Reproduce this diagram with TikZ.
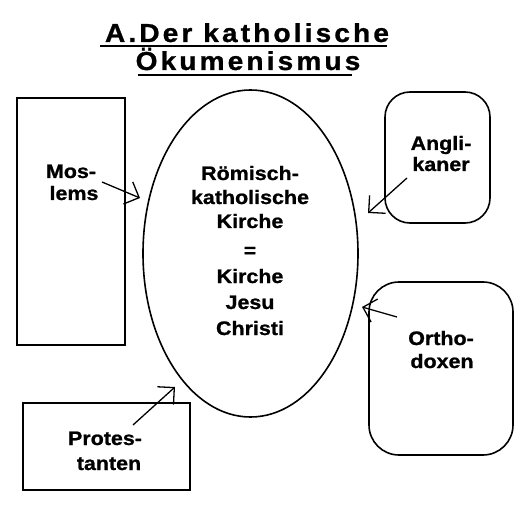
\documentclass[tikz,border=0pt]{standalone}
\usepackage{fontspec}
\usetikzlibrary{shapes.geometric,arrows.meta}
\newfontfamily\lblfont{Liberation Sans}[FakeStretch=1.1,FakeBold=1]
\newfontfamily\ttlfont{Liberation Sans}[FakeStretch=1.08,LetterSpace=12,FakeBold=1]
\begin{document}
\begin{tikzpicture}[x=1pt,y=-1pt,
  shape line/.style={draw=black,line width=1.6pt},
  lbl/.style={inner sep=0pt,anchor=base,font=\lblfont\bfseries\fontsize{19.5}{24}\selectfont},
  ttl/.style={inner sep=0pt,anchor=base,font=\ttlfont\bfseries\fontsize{26}{30}\selectfont},
  conn/.style={line width=1.3pt,-{Straight Barb[length=12pt,width=24pt,line width=1.3pt]}}]
\useasboundingbox (0,0) rectangle (530,505);
% title
\node[ttl] (t1) at (247,42) {A.Der katholische};
\node[ttl] (t2) at (248,70) {Ökumenismus};
\draw[line width=2pt] (100,46.5) -- (387,46.5);
\draw[line width=2pt] (138,75.5) -- (352,75.5);
% shapes
\node[shape line,ellipse,inner sep=0pt,minimum width=215pt,minimum height=327pt] (rk) at (250.5,253.5) {};
\node[shape line,rectangle,inner sep=0pt,minimum width=108pt,minimum height=247pt] (mos) at (71,221.5) {};
\node[shape line,rectangle,rounded corners=25pt,inner sep=0pt,minimum width=105pt,minimum height=131pt] (ang) at (437.5,157.5) {};
\node[shape line,rectangle,rounded corners=30pt,inner sep=0pt,minimum width=144pt,minimum height=173pt] (ort) at (441,368.5) {};
\node[shape line,rectangle,inner sep=0pt,minimum width=167pt,minimum height=87pt] (pro) at (106.5,446.5) {};
% center text
\node[lbl] (r1) at (250,180) {Römisch-};
\node[lbl] (r2) at (250,204) {katholische};
\node[lbl] (r3) at (250,228) {Kirche};
\node[lbl] (r4) at (250,257) {=};
\node[lbl] (r5) at (250,283) {Kirche};
\node[lbl] (r6) at (250,309) {Jesu};
\node[lbl] (r7) at (250,335) {Christi};
% side labels
\node[lbl] (m1) at (71,178) {Mos-};
\node[lbl] (m2) at (74,200) {lems};
\node[lbl] (a1) at (441,150) {Angli-};
\node[lbl] (a2) at (441,171) {kaner};
\node[lbl] (o1) at (441,345) {Ortho-};
\node[lbl] (o2) at (442,368) {doxen};
\node[lbl] (p1) at (105,445) {Protes-};
\node[lbl] (p2) at (109,470) {tanten};
% connectors
\coordinate (ms) at (102,182); \coordinate (mt) at (140,198);
\coordinate (as) at (407,178); \coordinate (at) at (368,213);
\coordinate (os) at (397,317); \coordinate (ot) at (362,307);
\coordinate (ps) at (133,425); \coordinate (pt) at (175,387);
\draw[conn] (ms) -- (mt);
\draw[conn] (as) -- (at);
\draw[conn] (os) -- (ot);
\draw[conn] (ps) -- (pt);
\end{tikzpicture}
\end{document}
